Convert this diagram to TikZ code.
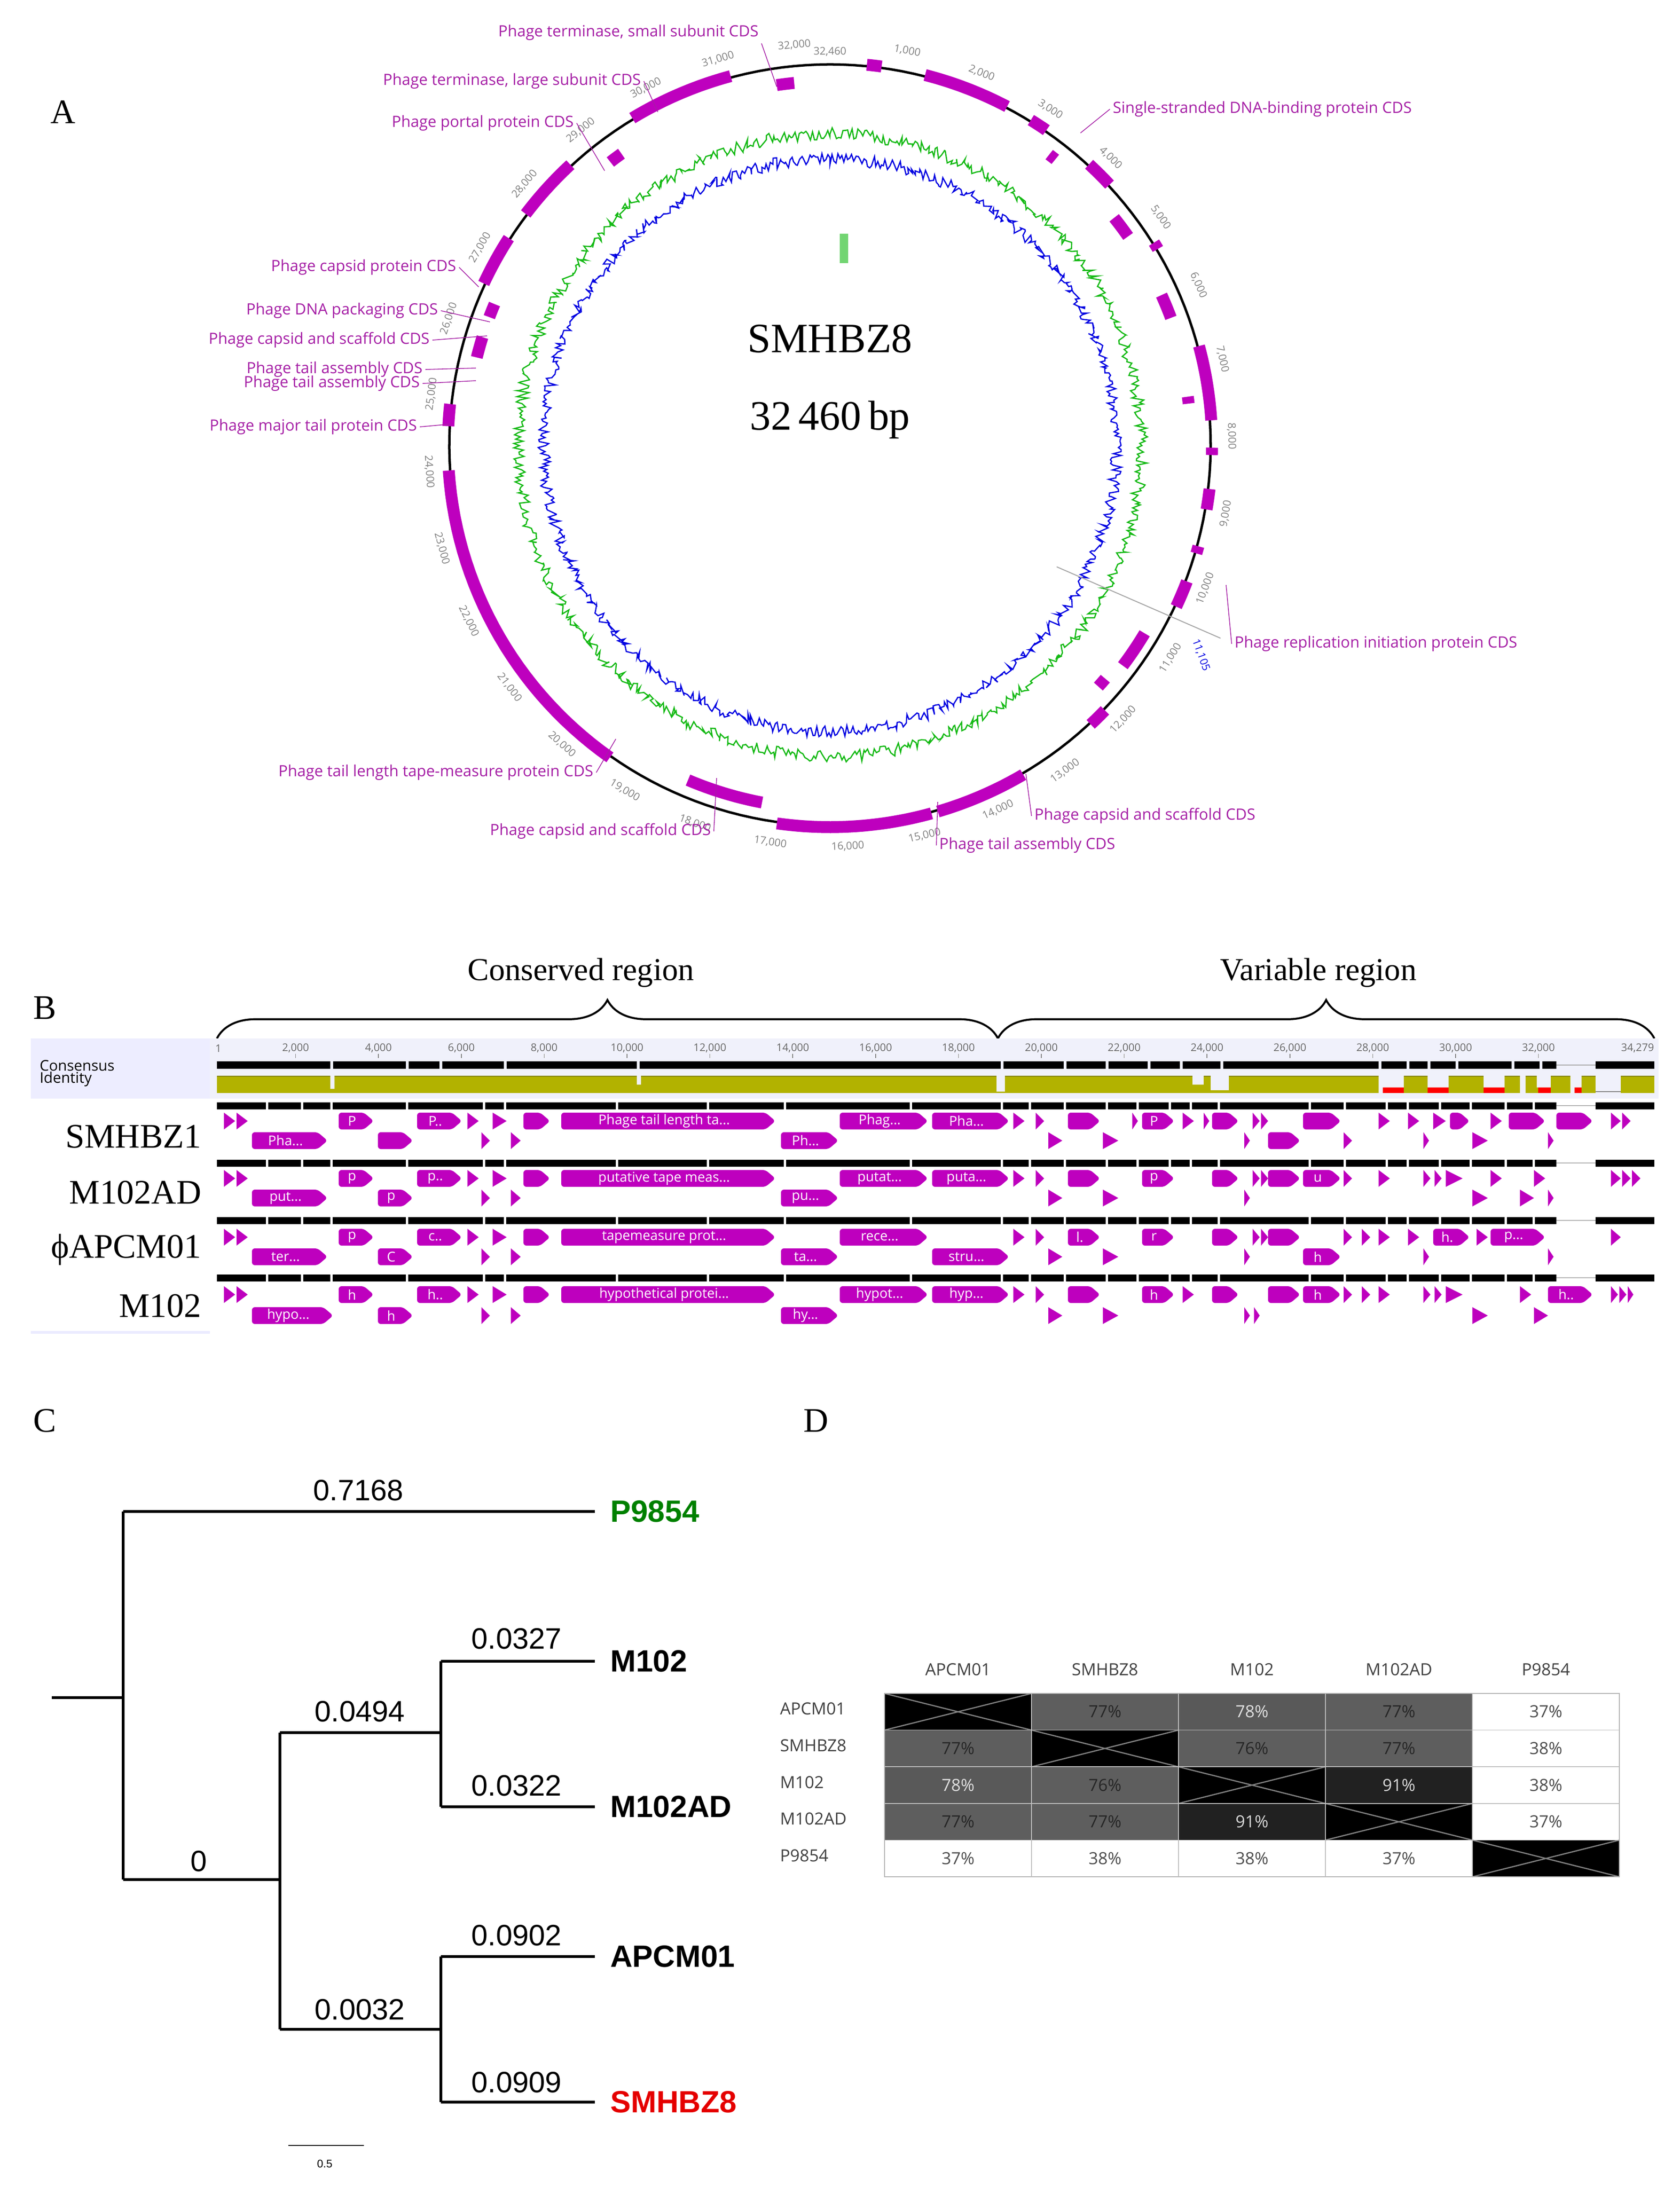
\documentclass[tikz,border=0pt]{standalone}
\usepackage{fontspec}
\setmainfont{Liberation Serif}
\newfontfamily\osans{Open Sans}
\newfontfamily\lsans{Liberation Sans}
\usetikzlibrary{decorations.pathreplacing}
\definecolor{gmag}{RGB}{190,0,190}
\definecolor{lmag}{RGB}{165,30,165}
\definecolor{olive}{RGB}{178,178,0}
\definecolor{lav}{RGB}{240,241,251}
\definecolor{gcg}{RGB}{20,185,20}
\definecolor{gcb}{RGB}{0,0,225}
\tikzset{
 gene/.style={gmag,line width=0.17cm},
 callout/.style={font=\osans\fontsize{6.3}{7}\selectfont,text=lmag,inner sep=1pt},
 lead/.style={lmag,line width=0.3pt},
 tick/.style={font=\osans\fontsize{4.3}{5}\selectfont,text=gray,inner sep=0pt},
 gtext/.style={font=\osans\fontsize{5.5}{6}\selectfont,text=white,inner sep=0pt},
 rowlab/.style={font=\fontsize{14}{16}\selectfont,anchor=east},
 panel/.style={font=\fontsize{14}{16}\selectfont},
 branch/.style={line width=1.1pt},
 tlab/.style={font=\lsans\fontsize{12}{14}\selectfont,inner sep=1pt},
 tname/.style={font=\lsans\bfseries\fontsize{12.5}{14}\selectfont,anchor=west,inner sep=1pt},
 hlab/.style={font=\osans\fontsize{6.8}{8}\selectfont,text=black!75,inner sep=0pt},
 cell/.style={font=\osans\fontsize{6.8}{8}\selectfont,inner sep=0pt},
}
\newcommand\gn[4]{\fill[gmag,rounded corners=1.2pt] (#1,#3-6) -- (#2-7,#3-6) -- (#2,#3) -- (#2-7,#3+6) -- (#1,#3+6) -- cycle;
 \node[gtext] at ({(#1+#2-6)/2},#3) {#4};}
\newcommand\tri[3]{\fill[gmag] (#1,#3-6) -- (#2,#3) -- (#1,#3+6) -- cycle;}
\begin{document}
\begin{tikzpicture}[x=0.02cm,y=-0.02cm]
\useasboundingbox[fill=white] (0,0) rectangle (1200.33,1562.67);
% ================= Panel A =================
\node[panel] (pA) at (45,80) {A};
\pgfmathsetseed{7}
\draw[gcg,line width=0.5pt] plot[domain=0:360,samples=900] ({593+(218+9*rnd)*sin(\x)},{318-(218+9*rnd)*cos(\x)}) -- cycle;
\draw[gcb,line width=0.5pt] plot[domain=0:360,samples=900] ({593+(200+9*rnd)*sin(\x)},{318-(200+9*rnd)*cos(\x)}) -- cycle;
\draw[black,line width=1pt] plot[domain=0:360,samples=200] ({593+272*sin(\x)},{318-272*cos(\x)}) -- cycle;
\foreach \s/\e/\r in {0.5/0.7/273,1.3/2.49/273,2.86/3.11/273,3.34/3.45/260,3.85/4.24/273,4.63/4.96/260,5.23/5.33/273,5.92/6.27/260,6.76/7.78/273,7.42/7.52/258,8.15/8.25/273,8.71/8.99/273,9.5/9.6/273,10.0/10.37/273,10.9/11.45/262,11.75/11.9/258,12.08/12.35/273,13.49/14.75/273,14.84/16.95/273,17.2/18.3/260,19.4/24.0/273,24.6/24.9/273,25.6/25.9/260,26.2/26.4/260,26.6/27.3/273,27.7/28.6/273,29.05/29.25/256,29.65/31.1/273,31.7/31.95/260}{
 \pgfmathsetmacro\aa{\s*11.091}\pgfmathsetmacro\bb{\e*11.091}
 \draw[gene] plot[domain=\aa:\bb,samples=30] ({593+\r*sin(\x)},{318-\r*cos(\x)});
}
\foreach \k in {1,...,32}{
 \pgfmathsetmacro\ph{\k*11.091}
 \pgfmathsetmacro\rot{(\ph>90 && \ph<270) ? 180-\ph : -\ph}
 \node[tick,rotate=\rot] at ({593+287*sin(\ph)},{318-287*cos(\ph)}) {\k,000};
}
\node[tick] (t0) at (593,37) {32,460};
\fill[gcg!60] (600,167) rectangle (606,188);
\node[font=\fontsize{17}{20}\selectfont] (title) at (593,242) {SMHBZ8};
\node[font=\fontsize{17}{20}\selectfont] (size) at (593,300) {32\,460\,bp};
% callouts
\node[callout,anchor=south] (c1) at (449,31) {Phage terminase, small subunit CDS};
\draw[lead] (c1.south east) -- (555,62);
\node[callout,anchor=east] (c2) at (460,58) {Phage terminase, large subunit CDS};
\draw[lead] (c2.east) -- (470,80);
\node[callout,anchor=east] (c3) at (412,88) {Phage portal protein CDS};
\draw[lead] (c3.east) -- (432,122);
\node[callout,anchor=west] (c4) at (793,78) {Single-stranded DNA-binding protein CDS};
\draw[lead] (c4.west) -- (772,95);
\node[callout,anchor=east] (c5) at (328,191) {Phage capsid protein CDS};
\draw[lead] (c5.east) -- (342,205);
\node[callout,anchor=east] (c6) at (315,222) {Phage DNA packaging CDS};
\draw[lead] (c6.east) -- (350,230);
\node[callout,anchor=east] (c7) at (309,243) {Phage capsid and scaffold CDS};
\draw[lead] (c7.east) -- (348,240);
\node[callout,anchor=east] (c8) at (304,264) {Phage tail assembly CDS};
\draw[lead] (c8.east) -- (340,263);
\node[callout,anchor=east] (c9) at (302,274) {Phage tail assembly CDS};
\draw[lead] (c9.east) -- (340,272);
\node[callout,anchor=east] (c10) at (300,305) {Phage major tail protein CDS};
\draw[lead] (c10.east) -- (322,303);
\node[callout,anchor=west] (c11) at (880,460) {Phage replication initiation protein CDS};
\draw[lead] (c11.west) -- (876,418);
\node[callout,anchor=east] (c12) at (426,552) {Phage tail length tape-measure protein CDS};
\draw[lead] (c12.east) -- (440,528);
\node[callout,anchor=east] (c13) at (510,594) {Phage capsid and scaffold CDS};
\draw[lead] (c13.east) -- (512,556);
\node[callout,anchor=west] (c14) at (737,583) {Phage capsid and scaffold CDS};
\draw[lead] (c14.west) -- (733,553);
\node[callout,anchor=west] (c15) at (669,604) {Phage tail assembly CDS};
\draw[lead] (c15.west) -- (670,573);
\coordinate (g1) at (755,405);
\coordinate (g2) at (872,456);
\draw[gray!70,line width=0.4pt] (g1) -- (g2);
\node[tick,text=gcb,rotate=-70] (bl) at (858,468) {11,105};
% ================= Panel B =================
\node[panel] (pB) at (32,720) {B};
\draw[decorate,decoration={brace,amplitude=0.55cm},line width=0.8pt] (155,742) -- (713,742);
\draw[decorate,decoration={brace,amplitude=0.55cm},line width=0.8pt] (713,742) -- (1182,742);
\node[font=\fontsize{13}{15}\selectfont] (cr) at (415,695) {Conserved region};
\node[font=\fontsize{13}{15}\selectfont] (vr) at (942,695) {Variable region};
\fill[lav] (22,742) rectangle (1185,785);
\fill[blue!7] (22,742) rectangle (150,785);
\node[font=\osans\fontsize{6}{7}\selectfont,anchor=west,align=left,inner sep=0pt] (ci) at (28,767) {Consensus\\[-2pt]Identity};
\foreach \k/\lab in {2/{2,000},4/{4,000},6/{6,000},8/{8,000},10/{10,000},12/{12,000},14/{14,000},16/{16,000},18/{18,000},20/{20,000},22/{22,000},24/{24,000},26/{26,000},28/{28,000},30/{30,000},32/{32,000}}{
 \node[tick,text=black!60] at ({152+29.6*\k},749) {\lab};
 \draw[black!50,line width=0.3pt] ({152+29.6*\k},753) -- ({152+29.6*\k},756);
}
\node[tick,text=black!60] at (1170,749) {34,279};
\node[tick,text=black!60] at (156,749) {1};
% consensus bar
\draw[line width=0.11cm] (155,761) -- (1182,761);
\foreach \g in {236,290,314,360,455,715,760,790,820,843,872,985,1005,1020,1040,1080,1100}{\fill[lav] (\g,758) rectangle ++(2,6);}
\fill[lav] (1112,758) rectangle (1140,764);
\draw[gray!70,line width=0.4pt] (1112,761) -- (1140,761);
% identity
\fill[olive] (155,769) rectangle (1182,781);
\draw[olive!70!black,line width=0.3pt] (155,769) -- (1182,769);
\foreach \a/\b/\d in {236/239/778,455/458/775,712/718/780,852/860/775,865/878/779,985/1003/781,1020/1035/781,1060/1075/781,1086/1090/781,1098/1108/777,1122/1130/781,1140/1158/781}{\fill[lav] (\a,768) rectangle (\b,\d);}
\foreach \a/\b in {988/1003,1020/1035,1060/1075,1099/1108,1125/1130}{\fill[red] (\a,777) rectangle (\b,781);}
\draw[gray,line width=0.5pt] (1140,780) -- (1158,780);
% sequence rows
\foreach \y in {790,831,872,913}{
 \draw[line width=0.1cm] (155,\y) -- (1182,\y);
 \foreach \g in {190,215,236,290,345,360,440,505,560,650,715,735,760,790,812,835,850,870,935,960,990,1005,1028,1050,1075,1095}{\fill[white] (\g,\y-3) rectangle ++(1.5,6);}
 \fill[white] (1112,\y-3) rectangle (1140,\y+3);
 \draw[gray!60,line width=0.3pt] (1112,\y) -- (1140,\y);
}
\node[rowlab] (r1) at (150,812) {SMHBZ1};
\node[rowlab] (r2) at (150,852) {M102AD};
\node[rowlab] (r3) at (150,893) {ϕAPCM01};
\node[rowlab] (r4) at (150,933) {M102};
% row 1
\foreach \a/\b in {160/168,169/177,334/342,352/362,724/732,740/746,809/813,845/853,860/864,895/900,901/906,985/993,1006/1014,1024/1033,1065/1073,1151/1158,1159/1165}{\tri{\a}{\b}{801}}
\foreach \a/\b/\t in {242/267/P,298/330/P..,374/393/{},401/554/{Phage tail length ta...},600/663/{Phag...},666/721/{Pha...},763/786/{},816/839/P,866/885/{},931/958/{},1036/1050/{},1078/1104/{},1112/1138/{}}{\gn{\a}{\b}{801}{\t}}
\foreach \a/\b/\t in {180/234/{Pha...},270/295/{},558/599/{Ph...},906/929/{}}{\gn{\a}{\b}{815}{\t}}
\foreach \a/\b in {344/350,365/372,749/759,788/799,889/893,960/966,1017/1021,1052/1063,1106/1110}{\tri{\a}{\b}{815}}
% row 2
\foreach \a/\b in {160/168,169/177,334/342,352/362,724/732,740/746,895/900,901/906,960/966,985/993,1017/1022,1025/1030,1033/1045,1065/1073,1096/1104,1151/1158,1159/1165,1166/1172}{\tri{\a}{\b}{842}}
\foreach \a/\b/\t in {242/267/p,298/330/p..,374/393/{},401/554/{putative tape meas...},600/663/{putat...},666/721/{puta...},763/786/{},816/839/p,866/885/{},906/929/{},931/958/u}{\gn{\a}{\b}{842}{\t}}
\foreach \a/\b/\t in {180/234/{put...},270/295/p,558/599/{pu...}}{\gn{\a}{\b}{856}{\t}}
\foreach \a/\b in {344/350,365/372,749/759,788/799,889/893,1052/1063,1086/1096,1106/1110}{\tri{\a}{\b}{856}}
% row 3
\foreach \a/\b in {160/168,169/177,334/342,352/362,724/732,740/746,895/900,901/906,960/966,973/979,985/993,1006/1014,1055/1063,1151/1158}{\tri{\a}{\b}{884}}
\foreach \a/\b/\t in {242/267/p,298/330/c..,374/393/{},401/554/{tapemeasure prot...},600/663/{rece...},763/786/l.,816/839/r,866/885/{},906/929/{},1024/1050/h.,1065/1104/{p...}}{\gn{\a}{\b}{884}{\t}}
\foreach \a/\b/\t in {180/234/{ter...},270/295/C,558/599/{ta...},666/721/{stru...},931/958/h}{\gn{\a}{\b}{898}{\t}}
\foreach \a/\b in {344/350,365/372,749/759,788/799,889/893,1017/1021,1106/1110}{\tri{\a}{\b}{898}}
% row 4
\foreach \a/\b in {160/168,169/177,334/342,352/362,724/732,740/746,845/853,960/966,973/979,985/993,1017/1022,1025/1030,1033/1045,1086/1094,1151/1156,1157/1162,1163/1167}{\tri{\a}{\b}{925}}
\foreach \a/\b/\t in {242/267/h,298/330/h..,374/393/{},401/554/{hypothetical protei...},600/663/{hypot...},666/721/{hyp...},763/786/{},816/839/h,866/885/{},906/929/{},931/958/h,1106/1138/h..}{\gn{\a}{\b}{925}{\t}}
\foreach \a/\b/\t in {180/238/{hypo...},270/295/h,558/599/{hy...}}{\gn{\a}{\b}{940}{\t}}
\foreach \a/\b in {344/350,365/372,749/759,788/799,889/893,896/900,1052/1063,1096/1106}{\tri{\a}{\b}{940}}
\draw[blue!8,line width=1pt] (22,952) -- (150,952);
% ================= Panel C =================
\node[panel] (pC) at (32,1015) {C};
\coordinate (root) at (37,1213);
\coordinate (n0t) at (88,1080); \coordinate (n0b) at (88,1343); \coordinate (n0) at (88,1213);
\coordinate (n1t) at (200,1238); \coordinate (n1b) at (200,1450); \coordinate (n1) at (200,1343);
\coordinate (n2t) at (315,1187); \coordinate (n2b) at (315,1291); \coordinate (n2) at (315,1238);
\coordinate (n3t) at (315,1398); \coordinate (n3b) at (315,1502); \coordinate (n3) at (315,1450);
\node[tname,text=green!50!black] (P9854) at (434,1080) {P9854};
\node[tname] (M102) at (434,1187) {M102};
\node[tname] (M102AD) at (434,1291) {M102AD};
\node[tname] (APCM01) at (434,1398) {APCM01};
\node[tname,text=red!90!black] (SMHBZ8) at (434,1502) {SMHBZ8};
\draw[branch] (root) -- (n0);
\draw[branch] (n0t) -- (n0b);
\draw[branch] (n0t) -- ++(337,0) coordinate (e1);
\draw[branch] (n0b) -- (n1);
\draw[branch] (n1t) -- (n1b);
\draw[branch] (n1t) -- (n2);
\draw[branch] (n2t) -- (n2b);
\draw[branch] (n2t) -- ++(110,0);
\draw[branch] (n2b) -- ++(110,0);
\draw[branch] (n1b) -- (n3);
\draw[branch] (n3t) -- (n3b);
\draw[branch] (n3t) -- ++(110,0);
\draw[branch] (n3b) -- ++(110,0);
\node[tlab] (l1) at (256,1065) {0.7168};
\node[tlab] (l2) at (142,1330) {0};
\node[tlab] (l3) at (257,1223) {0.0494};
\node[tlab] (l4) at (369,1171) {0.0327};
\node[tlab] (l5) at (369,1276) {0.0322};
\node[tlab] (l6) at (257,1436) {0.0032};
\node[tlab] (l7) at (369,1383) {0.0902};
\node[tlab] (l8) at (369,1488) {0.0909};
\coordinate (s1) at (206,1533); \coordinate (s2) at (260,1533);
\draw[line width=0.4pt] (s1) -- (s2);
\node[font=\lsans\fontsize{4.5}{5}\selectfont] (sc) at (232,1546) {0.5};
% ================= Panel D =================
\node[panel] (pD) at (583,1015) {D};
\foreach \n [count=\i] in {APCM01,SMHBZ8,M102,M102AD,P9854}{
 \node[hlab] at ({632+105*(\i-1)+52.5},1193) {\n};
 \node[hlab,anchor=west] at (557,{1210+26.2*(\i-1)+11}) {\n};
}
\foreach \r/\c/\v/\f/\t in {
1/2/77\%/37/15,1/3/78\%/35/88,1/4/77\%/37/15,1/5/37\%/100/30,
2/1/77\%/37/15,2/3/76\%/37/15,2/4/77\%/37/15,2/5/38\%/100/30,
3/1/78\%/35/88,3/2/76\%/37/15,3/4/91\%/13/85,3/5/38\%/100/30,
4/1/77\%/37/15,4/2/77\%/37/15,4/3/91\%/13/85,4/5/37\%/100/30,
5/1/37\%/100/30,5/2/38\%/100/30,5/3/38\%/100/30,5/4/37\%/100/30}{
 \pgfmathsetmacro\xa{632+105*(\c-1)}\pgfmathsetmacro\ya{1210+26.2*(\r-1)}
 \fill[white!\f!black] (\xa,\ya) rectangle ++(105,26.2);
 \node[cell,text=white!\t!black] at (\xa+52.5,\ya+13) {\v};
}
\foreach \i in {1,...,5}{
 \pgfmathsetmacro\xa{632+105*(\i-1)}\pgfmathsetmacro\ya{1210+26.2*(\i-1)}
 \fill[black] (\xa,\ya) rectangle ++(105,26.2);
 \draw[gray,line width=0.5pt] (\xa,\ya) -- ++(105,26.2) (\xa,\ya+26.2) -- ++(105,-26.2);
}
\draw[gray!60,line width=0.4pt] (632,1210) rectangle (1157,1341);
\foreach \i in {1,...,4}{\draw[gray!50,line width=0.3pt] ({632+105*\i},1210) -- ({632+105*\i},1341);
 \draw[gray!50,line width=0.3pt] (632,{1210+26.2*\i}) -- (1157,{1210+26.2*\i});}
\end{tikzpicture}
\end{document}
